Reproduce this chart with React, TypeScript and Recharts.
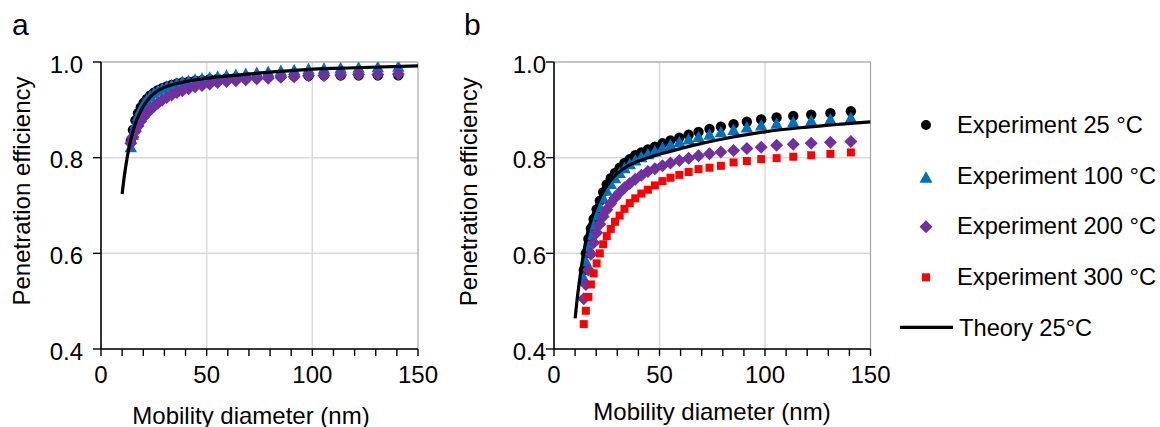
import React from 'react';
import { ScatterChart, Scatter, XAxis, YAxis, CartesianGrid, ReferenceLine } from 'recharts';

const FONT = '"Liberation Sans", Arial, sans-serif';

// Mobility diameter bins (nm)
const diameters = [14.1, 15.1, 16.3, 17.5, 18.8, 20.2, 21.7, 23.3, 25.0, 26.9, 28.9, 31.1, 33.4, 35.9, 38.5, 41.4, 44.5, 47.8, 51.4, 55.2, 59.4, 63.8, 68.5, 73.7, 79.1, 85.1, 91.4, 98.2, 105.5, 113.4, 121.9, 131.0, 140.7];

// Panel a
const panelA25 = [0.835, 0.858, 0.878, 0.893, 0.905, 0.915, 0.923, 0.93, 0.936, 0.941, 0.945, 0.949, 0.952, 0.955, 0.957, 0.959, 0.961, 0.962, 0.964, 0.965, 0.966, 0.967, 0.968, 0.969, 0.97, 0.97, 0.971, 0.971, 0.972, 0.972, 0.972, 0.972, 0.972];
const panelA100 = [0.822, 0.848, 0.87, 0.887, 0.9, 0.912, 0.921, 0.928, 0.934, 0.94, 0.944, 0.948, 0.951, 0.955, 0.958, 0.96, 0.963, 0.965, 0.967, 0.969, 0.971, 0.973, 0.975, 0.977, 0.979, 0.981, 0.983, 0.985, 0.986, 0.987, 0.988, 0.989, 0.99];
const panelA200 = [0.83, 0.843, 0.855, 0.866, 0.876, 0.885, 0.893, 0.9, 0.907, 0.914, 0.92, 0.926, 0.931, 0.936, 0.94, 0.944, 0.948, 0.951, 0.954, 0.957, 0.959, 0.961, 0.963, 0.965, 0.966, 0.968, 0.969, 0.971, 0.972, 0.973, 0.974, 0.974, 0.975];

// Panel b
const panelB25 = [0.565, 0.6, 0.63, 0.652, 0.672, 0.692, 0.71, 0.728, 0.744, 0.757, 0.768, 0.779, 0.789, 0.797, 0.805, 0.811, 0.817, 0.823, 0.83, 0.836, 0.842, 0.848, 0.854, 0.86, 0.865, 0.87, 0.875, 0.88, 0.884, 0.887, 0.89, 0.893, 0.897];
const panelB100 = [0.548, 0.583, 0.614, 0.638, 0.659, 0.679, 0.697, 0.715, 0.731, 0.745, 0.757, 0.768, 0.778, 0.786, 0.794, 0.801, 0.807, 0.813, 0.82, 0.826, 0.832, 0.838, 0.843, 0.848, 0.853, 0.858, 0.863, 0.867, 0.871, 0.874, 0.877, 0.88, 0.883];
const panelB200 = [0.505, 0.535, 0.565, 0.598, 0.622, 0.643, 0.661, 0.677, 0.691, 0.704, 0.716, 0.727, 0.737, 0.746, 0.755, 0.763, 0.771, 0.777, 0.783, 0.789, 0.794, 0.799, 0.804, 0.808, 0.812, 0.815, 0.819, 0.822, 0.826, 0.828, 0.83, 0.832, 0.834];
const panelB300 = [0.452, 0.48, 0.509, 0.535, 0.558, 0.579, 0.6, 0.619, 0.636, 0.651, 0.666, 0.679, 0.693, 0.705, 0.715, 0.725, 0.733, 0.742, 0.751, 0.758, 0.764, 0.77, 0.776, 0.779, 0.783, 0.79, 0.793, 0.797, 0.799, 0.802, 0.805, 0.808, 0.811];

// Theory 25 °C
const theoryDiameters = [10, 11, 12, 13, 14, 15, 16, 17, 18, 20, 22, 25, 30, 35, 40, 50, 60, 70, 80, 90, 100, 120, 150];
const theoryA = [0.724, 0.76, 0.79, 0.815, 0.836, 0.853, 0.868, 0.88, 0.89, 0.907, 0.92, 0.934, 0.947, 0.954, 0.959, 0.966, 0.971, 0.975, 0.979, 0.982, 0.985, 0.988, 0.992];
const theoryB = [0.464, 0.505, 0.54, 0.572, 0.6, 0.624, 0.644, 0.661, 0.675, 0.699, 0.718, 0.741, 0.767, 0.783, 0.793, 0.807, 0.819, 0.83, 0.839, 0.847, 0.854, 0.864, 0.875];

const xTicks = [0, 10, 20, 30, 40, 50, 60, 70, 80, 90, 100, 110, 120, 130, 140, 150];
const yTicks = [0.4, 0.6, 0.8, 1.0];
const legendLabels = ['Experiment 25 °C', 'Experiment 100 °C', 'Experiment 200 °C', 'Experiment 300 °C', 'Theory 25°C'];

const toPoints = (xs: number[], ys: number[]) => xs.map((x, i) => ({ x, y: ys[i] }));

const CircleShape = (p: any) => <circle cx={p.cx} cy={p.cy} r={5.2} fill="#000" />;
const TriangleShape = (p: any) => (
  <polygon points={`${p.cx},${p.cy - 6.5} ${p.cx + 6.2},${p.cy + 5} ${p.cx - 6.2},${p.cy + 5}`} fill="#0070C0" />
);
const DiamondShape = (p: any) => (
  <polygon points={`${p.cx},${p.cy - 6.5} ${p.cx + 6.5},${p.cy} ${p.cx},${p.cy + 6.5} ${p.cx - 6.5},${p.cy}`} fill="#7030A0" />
);
const SquareShape = (p: any) => <rect x={p.cx - 4} y={p.cy - 4} width={8} height={8} fill="#FF0000" />;
const NoDot = () => <g />;

type PanelProps = {
  left: number;
  width: number;
  yAxisWidth: number;
  rightMargin: number;
  yTickMargin: number;
  series: { data: { x: number; y: number }[]; shape: any }[];
  theory: { x: number; y: number }[];
};

function Panel({ left, width, yAxisWidth, rightMargin, yTickMargin, series, theory }: PanelProps) {
  return (
    <div style={{ position: 'absolute', left, top: 0 }}>
      <ScatterChart width={width} height={427} margin={{ top: 62, right: rightMargin, bottom: 0, left: 0 }}>
        <CartesianGrid vertical={false} stroke="#d9d9d9" strokeWidth={1.5} />
        <ReferenceLine x={50} stroke="#d9d9d9" strokeWidth={1.5} />
        <ReferenceLine x={100} stroke="#d9d9d9" strokeWidth={1.5} />
        <ReferenceLine x={150} stroke="#a6a6a6" strokeWidth={1.2} />
        <ReferenceLine y={1} stroke="#a6a6a6" strokeWidth={1.2} />
        <XAxis
          type="number"
          dataKey="x"
          domain={[0, 150]}
          ticks={xTicks}
          interval={0}
          tickFormatter={(v: number) => (v % 50 === 0 ? String(v) : '')}
          height={78}
          tickSize={7}
          tickMargin={10}
          axisLine={{ stroke: '#000', strokeWidth: 1.6 }}
          tickLine={{ stroke: '#000', strokeWidth: 1.4 }}
          tick={{ fontSize: 24, fill: '#000', fontFamily: FONT }}
          allowDataOverflow
        />
        <YAxis
          type="number"
          dataKey="y"
          domain={[0.4, 1]}
          ticks={yTicks}
          interval={0}
          tickFormatter={(v: number) => v.toFixed(1)}
          width={yAxisWidth}
          tickSize={8}
          tickMargin={yTickMargin}
          axisLine={{ stroke: '#000', strokeWidth: 1.6 }}
          tickLine={{ stroke: '#000', strokeWidth: 1.4 }}
          tick={{ fontSize: 24, fill: '#000', fontFamily: FONT, dy: 2 }}
          allowDataOverflow
        />
        {series.map((s, i) => (
          <Scatter key={i} data={s.data} shape={s.shape} isAnimationActive={false} />
        ))}
        <Scatter
          data={theory}
          shape={NoDot}
          line={{ stroke: '#000', strokeWidth: 3.2 }}
          lineJointType="monotoneX"
          isAnimationActive={false}
        />
      </ScatterChart>
    </div>
  );
}

export default function App() {
  const seriesA = [
    { data: toPoints(diameters, panelA25), shape: CircleShape },
    { data: toPoints(diameters, panelA100), shape: TriangleShape },
    { data: toPoints(diameters, panelA200), shape: DiamondShape },
  ];
  const seriesB = [
    { data: toPoints(diameters, panelB25), shape: CircleShape },
    { data: toPoints(diameters, panelB100), shape: TriangleShape },
    { data: toPoints(diameters, panelB200), shape: DiamondShape },
    { data: toPoints(diameters, panelB300), shape: SquareShape },
  ];
  const legendY = [125, 177.7, 226.7, 277.3, 327.3];
  const legendBase = [133, 184, 234, 284.5, 335.5];
  const mx = 926;
  return (
    <div style={{ position: 'absolute', left: 0, top: 0, width: 1160, height: 427, background: '#fff', fontFamily: FONT }}>
      <Panel left={0} width={440} yAxisWidth={101} rightMargin={22} yTickMargin={10} series={seriesA} theory={toPoints(theoryDiameters, theoryA)} />
      <Panel left={450} width={440} yAxisWidth={104} rightMargin={19.5} yTickMargin={0} series={seriesB} theory={toPoints(theoryDiameters, theoryB)} />
      <svg width={1160} height={427} style={{ position: 'absolute', left: 0, top: 0, pointerEvents: 'none' }} fontFamily={FONT}>
        <text x={12} y={35} fontSize={30} fill="#000">a</text>
        <text x={464} y={35} fontSize={30} fill="#000">b</text>
        <text x={251} y={423.5} fontSize={24} fill="#000" textAnchor="middle">Mobility diameter (nm)</text>
        <text x={712} y={419.5} fontSize={24} fill="#000" textAnchor="middle">Mobility diameter (nm)</text>
        <text x={0} y={0} fontSize={24} fill="#000" textAnchor="middle" transform="translate(30,191) rotate(-90)">Penetration efficiency</text>
        <text x={0} y={0} fontSize={24} fill="#000" textAnchor="middle" transform="translate(476.5,191.7) rotate(-90)">Penetration efficiency</text>
        {/* legend */}
        <circle cx={mx} cy={legendY[0]} r={5} fill="#000" />
        <polygon points={`${mx},${legendY[1] - 6.5} ${mx + 6.5},${legendY[1] + 5} ${mx - 6.5},${legendY[1] + 5}`} fill="#0070C0" />
        <polygon points={`${mx},${legendY[2] - 6.5} ${mx + 6.5},${legendY[2]} ${mx},${legendY[2] + 6.5} ${mx - 6.5},${legendY[2]}`} fill="#7030A0" />
        <rect x={mx - 4} y={legendY[3] - 4} width={8} height={8} fill="#FF0000" />
        <line x1={900} x2={953} y1={legendY[4]} y2={legendY[4]} stroke="#000" strokeWidth={3.2} />
        {legendLabels.map((t, i) => (
          <text key={t} x={i === 4 ? 959 : 957} y={legendBase[i]} fontSize={23.7} fill="#000">{t}</text>
        ))}
      </svg>
    </div>
  );
}
